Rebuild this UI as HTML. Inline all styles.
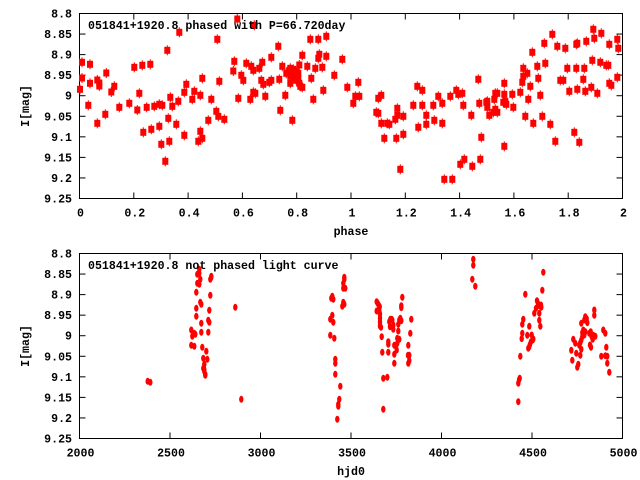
<!DOCTYPE html>
<html><head><meta charset="utf-8"><style>
body{margin:0;background:#fff}
svg{display:block}
text{font-family:"Liberation Mono","DejaVu Sans Mono",monospace;font-weight:bold;font-size:11.6px;fill:#000}
</style></head><body>
<svg id="s" width="640" height="480" xmlns="http://www.w3.org/2000/svg">
<rect width="640" height="480" fill="#fff"/>
<g id="ax" stroke="#000" stroke-width="1" fill="none"></g>
<g id="pts" fill="#f00"></g>
<g id="lab"></g>
</svg>
<script>
var NS="http://www.w3.org/2000/svg";
function el(p,t,a,txt){var e=document.createElementNS(NS,t);for(var k in a)e.setAttribute(k,a[k]);if(txt!==undefined)e.textContent=txt;p.appendChild(e);return e;}
var ax=document.getElementById('ax'),pts=document.getElementById('pts'),lab=document.getElementById('lab');
var L=79.5,R=622.5;
var yl=["8.8","8.85","8.9","8.95","9","9.05","9.1","9.15","9.2","9.25"];
function frame(T,B,xl){
 el(ax,'rect',{x:L,y:T,width:R-L,height:B-T});
 for(var i=0;i<10;i++){var y=T+(B-T)*i/9;
  if(i>0&&i<9){el(ax,'line',{x1:L,y1:y,x2:L+6,y2:y});el(ax,'line',{x1:R,y1:y,x2:R-6,y2:y});}
  el(lab,'text',{x:72,y:y+4,'text-anchor':'end'},yl[i]);}
 var n=xl.length-1;
 for(var j=0;j<=n;j++){var x=L+(R-L)*j/n;
  if(j>0&&j<n){el(ax,'line',{x1:x,y1:B,x2:x,y2:B-6});el(ax,'line',{x1:x,y1:T,x2:x,y2:T+6});}
  el(lab,'text',{x:x+1,y:B+18,'text-anchor':'middle'},xl[j]);}
}
frame(13.5,198.5,["0","0.2","0.4","0.6","0.8","1","1.2","1.4","1.6","1.8","2"]);
frame(253.5,438.5,["2000","2500","3000","3500","4000","4500","5000"]);
el(lab,'text',{x:88,y:29},"051841+1920.8 phased with P=66.720day");
el(lab,'text',{x:88,y:269},"051841+1920.8 not phased light curve");
el(lab,'text',{x:351,y:235,'text-anchor':'middle'},"phase");
el(lab,'text',{x:351,y:475,'text-anchor':'middle'},"hjd0");
el(lab,'text',{x:0,y:0,'text-anchor':'middle',transform:'translate(29,106) rotate(-90)'},"I[mag]");
el(lab,'text',{x:0,y:0,'text-anchor':'middle',transform:'translate(29,346) rotate(-90)'},"I[mag]");
var tdat=[[80,89.3],[82,62.3],[82,78],[90,64.3],[88.3,105.3],[90,83.3],[97.3,80],[99.3,83],[99.3,86],[97.3,123.3],[106.3,73],[105.3,114.3],[111.3,92],[114.3,86.3],[119.3,107.3],[129.3,103.3],[134.3,67.3],[137.3,110],[139.3,93.3],[142.3,65.3],[143.3,132.3],[146.7,107.3],[150.3,64.3],[151.3,129.3],[154.3,106.3],[159.3,126.3],[159.3,104.3],[162.3,105.3],[161.3,144.3],[165.3,161.3],[167.3,50.3],[168.3,118.3],[169.3,141.3],[170.3,97.3],[172.3,106.3],[176.3,124.3],[178.3,101.3],[179.3,32.3],[184.3,92.3],[184.3,135.3],[186.3,84.3],[192.3,99.3],[194.3,91.3],[198.3,141.3],[200.3,131.3],[200.3,95.3],[202.3,78.3],[202.3,138.3],[208.3,120.3],[211.3,99.3],[216.3,111.3],[217.3,39.3],[218.3,116.3],[219.3,81.3],[224.3,119.3],[233.3,71],[234.3,61.3],[237.3,19],[238.3,98.3],[241.3,75.3],[243.3,80.3],[246.3,63.3],[250.3,99.3],[251.3,66.3],[253.3,70.3],[253.3,92.3],[254.3,25.3],[255.3,93.3],[259.3,68.3],[262.3,62.3],[261.3,80.3],[263.3,84.3],[265.3,96.3],[269.3,82.3],[271.3,80.3],[271.3,57.3],[278.3,46.3],[279.3,79.3],[280.3,110.3],[282.3,66.3],[285.3,95.3],[286.3,73.3],[289.3,70.3],[290.3,68.3],[290.3,76.3],[290.3,83.3],[292.3,120.3],[293.3,69.3],[293.3,77.3],[295.3,71.3],[296.3,80.3],[298.3,73.3],[298.3,78.3],[299.3,65],[299.3,83.3],[300.3,86.3],[302.3,87.3],[302.3,55.3],[307.3,66.3],[310.3,39.3],[311.3,78.3],[313.3,99.3],[315.3,68.3],[318.3,39.3],[318.3,58.3],[319.3,54.3],[322.3,67.3],[323.3,90.3],[326.3,36.3],[326.3,56.3],[334.3,75.3],[342.3,59.3],[347.3,87.3],
[353.3,103.3],[355.3,96.3],[359.3,96.3],[358.3,82.3],[376.3,112.3],[378.3,113.3],[378.3,98.3],[381.3,95.3],[381.3,123.3],[384.3,138.3],[387.3,123.3],[389.3,124.3],[395.3,119.3],[396.3,138.3],[397.3,108.3],[397.3,115.3],[400.3,169.3],[403.3,116.3],[403.3,134.3],[413.3,105.3],[417.3,86.3],[418.3,127.3],[422.3,90.3],[422.3,105.3],[426.3,115.3],[426.3,124.3],[433.3,105.3],[434.3,120.3],[438.3,96.3],[442.3,103.3],[442.3,123.3],[444.3,179.3],[450.3,96.3],[452.3,179.3],[456.3,90.3],[458.3,94.3],[462.3,93.3],[460.3,164.3],[463.3,105.3],[464.3,159.3],[471.3,115.3],[472.3,166.3],[478.3,79.3],[479.3,103.3],[481.3,137.3],[480.3,159.3],[486.3,102.3],[487.3,101.3],[487.3,107.3],[489.3,115.3],[493.3,112.3],[495.3,109.3],[497.3,112.3],[494.3,99.3],[495.3,93.3],[497.3,93.3],[503.3,102.3],[505.3,101.3],[506.3,104.3],[504.3,83.3],[504.3,94.3],[504.3,146.3],[512.3,94.3],[513.3,107.3],[520.3,92.3],[522.3,82.3],[523.3,68.3],[523.3,76.3],[525.3,116.3],[527.3,73.3],[528.3,99.3],[530.3,86.3],[532.3,52.3],[533.3,123.3],[537.3,66.3],[538.3,78.3],[540.3,95.3],[542.3,116.3],[544.3,43.3],[545.3,63.3],[550.3,124.3],[552.3,34.3],[555.3,141.3],[557.3,46.3],[560.3,80.3],[563.3,80.3],[565.3,48.3],[567.3,68.3],[569.3,91.3],[574.3,132.3],[576.3,68.3],[576.3,44.3],[577.3,43.3],[577.3,89.3],[579.3,142.3],[583.3,79.3],[584.3,68.3],[585.3,91.3],[586.3,41.3],[591.3,87.3],[592.3,60.3],[593.3,29.3],[594.3,38.3],[597.3,93.3],[600.3,62.3],[601.3,33.3],[606.3,65.3],[608.3,65.3],[609.3,44.3],[609.3,83.3],[611.3,85.3],[617.3,39.3],[617.3,77.3],[618.3,48.3]];
tdat.forEach(function(p){var x=p[0];
 el(pts,'rect',{x:x-3,y:p[1]-3.5,width:6,height:7});el(pts,'rect',{x:x-0.5,y:p[1]-5,width:1,height:10});});
var bdat=[[147.7,381.3],[150.3,382.3],[191.3,330],[192.3,336.3],[191.3,345.3],[194.3,333.3],[195.3,334.3],[194.3,346.3],[196.3,316.3],[196.3,308.3],[196.3,292.3],[197.3,274.3],[197.3,283.3],[199.3,269.3],[199.3,273.3],[199.3,284.3],[200.3,279.3],[200.3,302.3],[201.3,304.3],[201.3,323.3],[201.3,332.3],[202.3,347.3],[203.3,358.3],[203.3,368.3],[204.3,364.3],[204.3,371.3],[205.3,374.3],[205.3,375.3],[204.3,369.3],[206.3,351.3],[207.3,359.3],[208.3,332.3],[208.3,320.3],[209.3,322.3],[209.3,310.3],[210.3,295.3],[210.3,279.3],[211.3,277.3],[211.3,276.3],[235.3,307.3],[241.3,399.3],[330.3,319.3],[330.3,335.3],[331.3,298.3],[332.3,296.3],[333.3,299.3],[332.3,315.3],[333.3,322.3],[334.3,338.3],[335.3,359.3],[335.3,363.3],[335.3,374.3],[337.3,419.3],[338.3,404.3],[338.3,406.3],[339.3,399.3],[340.3,386.3],[342.3,306.3],[343.3,302.3],[344.3,304.3],[343.3,288.3],[343.3,283.3],[344.3,279.3],[344.3,277.3],[345.3,288.3],
[376.7,301.7],[377.7,303.3],[378.7,305],[379.7,306.7],[379.3,310],[376.7,311],[380,314],[380,318],[380,322],[380,326],[381,327.3],[381.7,336.7],[382.3,352.3],[383.3,378.3],[383.3,409.3],[387.3,377.3],[388.3,341.7],[388.3,344.3],[388.3,352.3],[389.3,321.7],[390,326.7],[390.3,319.3],[391.7,319.3],[392.3,320],[393.3,325],[393.3,329.3],[394.3,345.3],[394.3,354.3],[394.3,363.3],[396,346],[396.7,350],[397.3,343.3],[397.3,338.3],[398.3,340],[399.3,339.3],[398.3,331],[398.3,324.3],[399.3,320],[400.3,318.3],[401.3,320.7],[401.3,307.7],[401.3,305.7],[402.3,297.3],[408.3,345.3],[408,355.3],[409.3,355.3],[408.3,363.3],[409.3,360.7],[410.3,333.3],[411.3,319.3],
[473.3,259.3],[473.3,265.3],[472.3,279.3],[475.3,286.3],[518.3,401.7],[518.3,383.3],[519,380],[519.7,378.3],[520.3,356.3],[521.7,338.7],[522.3,333.3],[522.3,324.3],[523.3,319.3],[525.3,294.3],[527.3,335.3],[528.3,348.3],[529.3,346.7],[530,344.3],[531,341.7],[531.7,335],[532.7,340],[533.3,339],[529.3,326.3],[534.3,313.3],[536,308.3],[537,300.7],[538,303.3],[539,305.7],[541,305],[541.3,307.3],[539.3,313.3],[539.3,320.3],[540.3,326.3],[542.3,290.3],[543.3,272.3],
[571.3,350.3],[572.3,360.3],[573.3,339.3],[575.3,343.3],[576.3,353.3],[577.3,367.3],[578.3,364.3],[579.3,345.3],[580.3,355.3],[581.3,349.3],[581.3,323.3],[580.3,342.7],[581.3,340],[582.3,336.7],[582.3,332.7],[583.3,330],[584.3,335],[585.3,331.7],[584.3,320],[585.3,316.7],[586.7,318.7],[587.3,322.7],[589.3,333.3],[590,345],[591,347.3],[590.7,331.7],[591.7,336.7],[592.7,339.3],[593.3,335.3],[595.3,336.3],[594.3,310],[594.3,315.3],[601.3,356.3],[603.3,330],[605.3,333.3],[606.3,347.3],[605.3,355.7],[607.3,356.3],[607.3,363.3],[609.3,372.3]];
bdat.forEach(function(p){el(pts,'ellipse',{cx:p[0],cy:p[1],rx:2.2,ry:3.5});});
</script>
</body></html>
